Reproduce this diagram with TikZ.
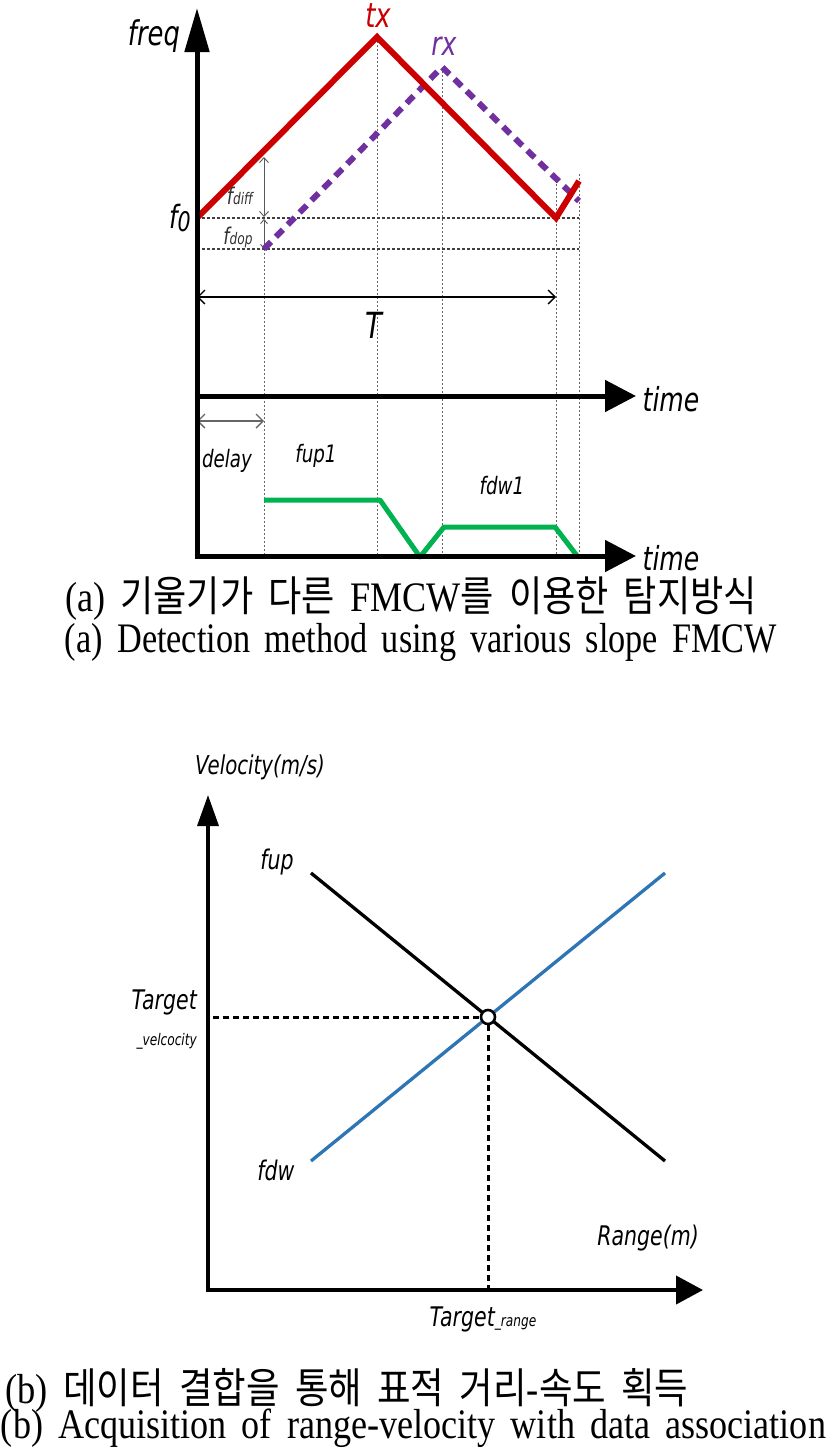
\documentclass[tikz,border=0pt]{standalone}
\usepackage{fontspec}
\usepackage{graphicx}
\usetikzlibrary{arrows.meta}
\newfontfamily\lblfont[FakeStretch=0.76]{DejaVu Sans}
\newfontfamily\capfont{Liberation Serif}
\newfontfamily\kofont{Noto Sans CJK KR}
\definecolor{txred}{RGB}{204,0,0}
\definecolor{rxpurple}{RGB}{112,48,160}
\definecolor{grn}{RGB}{0,178,80}
\definecolor{vblue}{RGB}{46,117,182}
\newcommand\capsetup{\capfont\fontsize{42}{42}\selectfont\spaceskip=0.42em\relax}
\tikzset{
  lbl/.style={font=\lblfont\itshape\fontsize{#1}{#1}\selectfont, inner sep=0pt},
  axisline/.style={line width=5pt},
  guide/.style={draw=black!60, line width=1pt, dash pattern=on 2pt off 2pt},
  hguide/.style={draw=black!75, line width=2.5pt, dash pattern=on 2.5pt off 2.5pt},
  txline/.style={draw=txred, line width=6pt, line join=miter},
  rxline/.style={draw=rxpurple, line width=6pt, dash pattern=on 10pt off 7pt},
  upline/.style={draw=grn, line width=5pt, line join=round},
  dimarrow/.style={line width=1.4pt, {Straight Barb[length=7pt,width=14pt]}-{Straight Barb[length=7pt,width=14pt]}},
  capnode/.style={inner sep=0pt},
  vline/.style={line width=3.3pt}
}
\begin{document}
\begin{tikzpicture}[x=1pt,y=-1pt]
\useasboundingbox (0,0) rectangle (827,1448);
\fill[white] (0,0) rectangle (827,1448);

% ---------- top graph: coordinates ----------
\coordinate (O1) at (197,558);
\coordinate (Ftip) at (197,8);
\coordinate (A1s) at (194.5,396);
\coordinate (A1e) at (636,396);
\coordinate (A2s) at (194.5,556);
\coordinate (A2e) at (636,556);
\coordinate (r0) at (197,218);
\coordinate (r1) at (377,37);
\coordinate (r2) at (556,218);
\coordinate (r3) at (579,181);
\coordinate (p0) at (264,249);
\coordinate (p1) at (442,67);
\coordinate (p2) at (579,201);
\coordinate (h1e) at (579,218);
\coordinate (h2s) at (197,249);
\coordinate (h2e) at (579,249);
\coordinate (v1b) at (264,556);
\coordinate (v2b) at (377,556);
\coordinate (v3b) at (442,556);
\coordinate (v4t) at (556,176);
\coordinate (v4b) at (556,556);
\coordinate (v5t) at (579,174);
\coordinate (v5b) at (579,556);
\coordinate (dtop) at (264,157);
\coordinate (Ts) at (197,297);
\coordinate (Te) at (556,297);
\coordinate (Ds) at (197,421);
\coordinate (De) at (264,421);
\coordinate (g0) at (264,500);
\coordinate (g1) at (380,500);
\coordinate (g2) at (420,557);
\coordinate (g3) at (444,527);
\coordinate (g4) at (555,527);
\coordinate (g5) at (578,557);

% guides
\draw[guide] (p0) -- (v1b);
\draw[guide] (r1) -- (v2b);
\draw[guide] (p1) -- (v3b);
\draw[guide] (v4t) -- (v4b);
\draw[guide] (v5t) -- (v5b);
\draw[hguide] (r0) -- (h1e);
\draw[hguide] (h2s) -- (h2e);

% fdiff / fdop arrows
\draw[draw=black!65, line width=0.9pt, {Straight Barb[length=5pt,width=9pt]}-{Straight Barb[length=5pt,width=9pt]}] (dtop) -- (264,217);
\draw[draw=black!65, line width=0.9pt, {Straight Barb[length=4pt,width=7pt]}-{Straight Barb[length=4pt,width=7pt]}] (264,219) -- (p0);

% signals
\draw[rxline] (p0) -- (p1) -- (p2);
\draw[txline] (r0) -- (r1) -- (r2) -- (r3);

% T and delay
\draw[dimarrow] (Ts) -- (Te);
\draw[dimarrow, draw=black!60] (Ds) -- (De);

% green beat frequency
\draw[upline] (g0) -- (g1) -- (g2) -- (g3) -- (g4) -- (g5);

% axes
\draw[axisline, -{Triangle[length=44pt,width=24pt]}] (O1) -- (Ftip);
\draw[axisline, -{Triangle[length=31pt,width=31pt]}] (A1s) -- (A1e);
\draw[axisline, -{Triangle[length=31pt,width=31pt]}] (A2s) -- (A2e);

% labels
\node[lbl=34] (lfreq) at (154,36) {freq};
\node[lbl=34, text=txred] (ltx) at (378,16) {tx};
\node[lbl=33, text=rxpurple] (lrx) at (444,46) {rx};
\node[lbl=32, anchor=east] (lf0) at (191,218) {f\raisebox{-0.1em}{\fontsize{27}{27}\selectfont 0}};
\node[lbl=23, text=black!80] (lfdiff) at (240,196) {f{\fontsize{16}{16}\selectfont diff}};
\node[lbl=23, text=black!80] (lfdop) at (238,237) {f{\fontsize{16}{16}\selectfont dop}};
\node[lbl=36] (lT) at (374,325) {T};
\node[lbl=33] (ltime1) at (671,399) {time};
\node[lbl=33] (ltime2) at (671,558) {time};
\node[lbl=24] (ldelay) at (227,461) {delay};
\node[lbl=24] (lfup1) at (316,456) {fup1};
\node[lbl=24] (lfdw1) at (502,486) {fdw1};

% ---------- captions (a) ----------
\node[capnode] (capa1) at (411,599) {\resizebox{692pt}{\height}{\capsetup (a) {\kofont 기울기가 다른} FMCW{\kofont 를 이용한 탐지방식}}};
\node[capnode] (capa2) at (421,642) {\resizebox{712pt}{\height}{\capsetup (a) Detection method using various slope FMCW}};

% ---------- bottom graph ----------
\coordinate (O2) at (208,1290);
\coordinate (Vtip) at (208,795);
\coordinate (O2b) at (206,1290);
\coordinate (Rtip) at (703,1290);
\coordinate (u0) at (311,873);
\coordinate (u1) at (665,1161);
\coordinate (w0) at (311,1161);
\coordinate (w1) at (665,873);
\coordinate (hv) at (213,1017);
\coordinate (vr) at (488,1290);

\draw[vline] (u0) -- (u1);
\draw[vline, draw=vblue] (w0) -- (w1);
\node[circle, draw=black, fill=white, line width=2.6pt, minimum size=14pt, inner sep=0pt] (X) at (488,1017) {};
\draw[line width=3pt, dash pattern=on 6pt off 4pt] (hv) -- (X.west);
\draw[line width=3pt, dash pattern=on 6pt off 4pt] (X.south) -- (vr);

\draw[line width=3.5pt, -{Triangle[length=31pt,width=21pt]}] (O2) -- (Vtip);
\draw[line width=4pt, -{Triangle[length=27pt,width=28pt]}] (O2b) -- (Rtip);

\node[lbl=26] (lvel) at (260,767) {Velocity(m/s)};
\node[lbl=27] (lfup) at (277,862) {fup};
\node[lbl=27] (lfdw) at (276,1170) {fdw};
\node[lbl=27, anchor=east] (ltgt) at (197,1002) {Target};
\node[lbl=16, anchor=east] (ltgtv) at (197,1041) {\_velcocity};
\node[lbl=27] (lrange) at (648,1238) {Range(m)};
\node[lbl=27] (ltgtr) at (483,1319) {Target{\fontsize{16}{16}\selectfont \_range}};

% ---------- captions (b) ----------
\node[capnode] (capb1) at (347,1390) {\resizebox{683pt}{\height}{\capsetup (b) {\kofont 데이터 결합을 통해 표적 거리}-{\kofont 속도 획득}}};
\node[capnode] (capb2) at (413.5,1428) {\resizebox{825pt}{\height}{\capsetup (b) Acquisition of range-velocity with data association}};
\end{tikzpicture}
\end{document}
